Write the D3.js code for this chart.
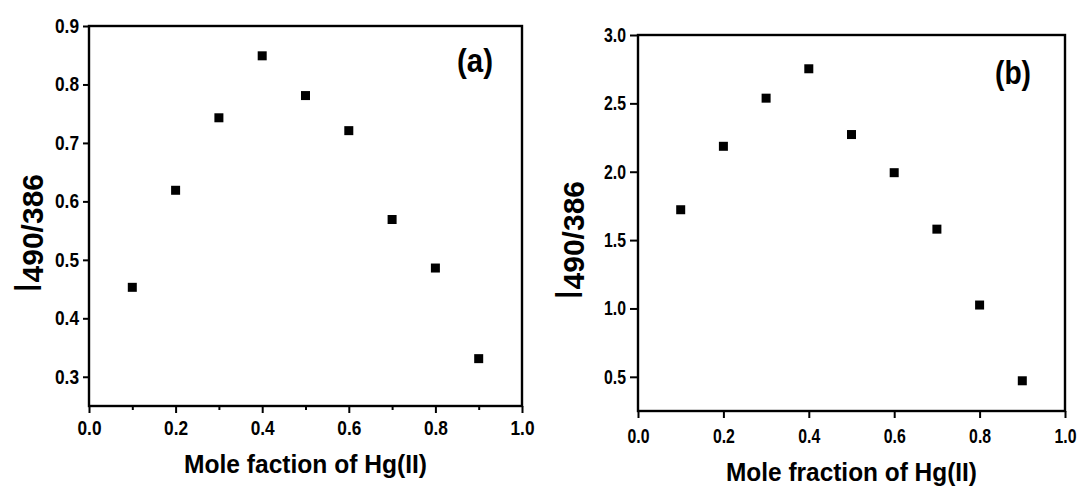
<!DOCTYPE html>
<html>
<head>
<meta charset="utf-8">
<script src="https://cdn.jsdelivr.net/npm/d3@7"></script>
<style>
  body { margin: 0; background: #fff; }
  .tick text { font-family: "Liberation Sans Narrow", "Arial Narrow", sans-serif; font-weight: bold; }
</style>
</head>
<body>
<div id="chart"></div>
<script>
// values
var molFraction = [0.1, 0.2, 0.3, 0.4, 0.5, 0.6, 0.7, 0.8, 0.9];
var ratioA = [0.453, 0.619, 0.743, 0.849, 0.781, 0.721, 0.569, 0.486, 0.331];
var ratioB = [1.722, 2.186, 2.538, 2.753, 2.272, 1.993, 1.580, 1.025, 0.471];

var xTicks = [0.0, 0.2, 0.4, 0.6, 0.8, 1.0];
var xMinorA = [0.1, 0.3, 0.5, 0.7, 0.9];
var yTicksA = [0.3, 0.4, 0.5, 0.6, 0.7, 0.8, 0.9];
var yTicksB = [0.5, 1.0, 1.5, 2.0, 2.5, 3.0];

var svg = d3
  .select("#chart")
  .append("svg")
  .attr("width", 1083)
  .attr("height", 494);

function drawPanel(p) {
  var x = d3.scaleLinear().domain([0, 1]).range([p.left, p.right]);
  var y = d3.scaleLinear().domain(p.yDomain).range([p.bottom, p.top]);

  var g = svg.append("g");

  // minor x ticks (left panel only)
  if (p.xMinor) {
    g.append("g")
      .attr("transform", "translate(0," + p.bottom + ")")
      .call(d3.axisBottom(x).tickValues(p.xMinor).tickSize(4).tickFormat(""))
      .call(function (a) { a.select(".domain").remove(); })
      .selectAll("line")
      .attr("stroke-width", 2);
  }

  var xa = g.append("g")
    .attr("transform", "translate(0," + p.bottom + ")")
    .call(
      d3.axisBottom(x)
        .tickValues(xTicks)
        .tickSize(7)
        .tickSizeOuter(0)
        .tickPadding(p.xPad)
        .tickFormat(d3.format(".1f"))
    );
  xa.select(".domain").remove();
  xa.selectAll("line").attr("stroke-width", 2);
  xa.selectAll("text")
    .style("font-size", "20px")
    .attr("fill", "#000")
    .attr("textLength", p.labelLen)
    .attr("lengthAdjust", "spacingAndGlyphs");

  var ya = g.append("g")
    .attr("transform", "translate(" + p.left + ",0)")
    .call(
      d3.axisLeft(y)
        .tickValues(p.yTicks)
        .tickSize(p.yTickSize)
        .tickSizeOuter(0)
        .tickPadding(4)
        .tickFormat(d3.format(".1f"))
    );
  ya.select(".domain").remove();
  ya.selectAll("line").attr("stroke-width", 2);
  ya.selectAll("text")
    .style("font-size", "20px")
    .attr("fill", "#000")
    .attr("textLength", p.labelLen)
    .attr("lengthAdjust", "spacingAndGlyphs");

  // frame
  g.append("rect")
    .attr("x", p.left)
    .attr("y", p.top)
    .attr("width", p.right - p.left)
    .attr("height", p.bottom - p.top)
    .attr("fill", "none")
    .attr("stroke", "#000")
    .attr("stroke-width", 2.4);

  // points
  var s = 9;
  g.selectAll("rect.pt")
    .data(p.values)
    .enter()
    .append("rect")
    .attr("class", "pt")
    .attr("x", function (d, i) { return x(molFraction[i]) - s / 2; })
    .attr("y", function (d) { return y(d) - s / 2; })
    .attr("width", s)
    .attr("height", s)
    .attr("fill", "#000");

  // x title
  g.append("text")
    .attr("x", (p.left + p.right) / 2)
    .attr("y", p.xTitleY)
    .attr("text-anchor", "middle")
    .style("font-family", "Liberation Sans, Arial, sans-serif")
    .style("font-size", "26px")
    .style("font-weight", "bold")
    .attr("textLength", p.xTitleLen)
    .attr("lengthAdjust", "spacingAndGlyphs")
    .text(p.xTitle);

  // y title I490/386
  var yt = g.append("text")
    .attr("transform", "translate(" + p.yTitleX + "," + p.yTitleY + ") rotate(-90)")
    .attr("text-anchor", "start")
    .style("font-family", "Liberation Sans, Arial, sans-serif")
    .style("font-weight", "bold");
  yt.append("tspan").style("font-size", "38px").style("font-weight", "normal").text("I");
  yt.append("tspan").style("font-size", "30px").attr("dy", 2).text("490/386");

  // panel letter
  g.append("text")
    .attr("x", p.letterX)
    .attr("y", p.letterY)
    .style("font-family", "Liberation Sans, Arial, sans-serif")
    .style("font-size", "33px")
    .style("font-weight", "bold")
    .attr("textLength", 36)
    .attr("lengthAdjust", "spacingAndGlyphs")
    .text(p.letter);
}

drawPanel({
  left: 89, right: 522, top: 26, bottom: 406,
  yDomain: [0.25, 0.9], yTicks: yTicksA, yTickSize: 6,
  xMinor: xMinorA, xPad: 8, labelLen: 24,
  values: ratioA,
  xTitle: "Mole faction of Hg(II)", xTitleY: 473, xTitleLen: 243,
  yTitleX: 41, yTitleY: 293,
  letter: "(a)", letterX: 457, letterY: 72
});

drawPanel({
  left: 638, right: 1065, top: 35, bottom: 411,
  yDomain: [0.25, 3.0], yTicks: yTicksB, yTickSize: 8,
  xMinor: null, xPad: 11, labelLen: 22,
  values: ratioB,
  xTitle: "Mole fraction of Hg(II)", xTitleY: 481, xTitleLen: 251,
  yTitleX: 582, yTitleY: 300,
  letter: "(b)", letterX: 995, letterY: 84
});
</script>
</body>
</html>
